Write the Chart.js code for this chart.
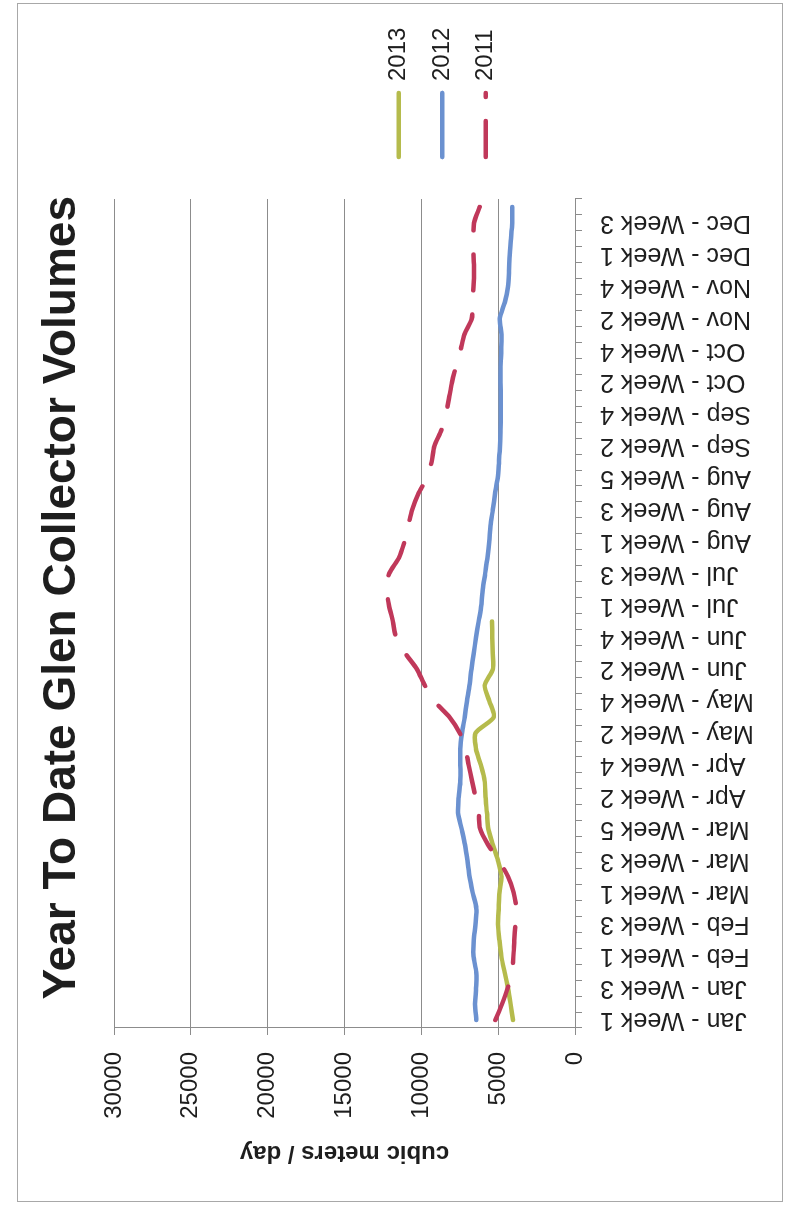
<!DOCTYPE html>
<html>
<head>
<meta charset="utf-8">
<script src="https://cdn.jsdelivr.net/npm/chart.js@4/dist/chart.umd.min.js"></script>
<style>
  html, body { margin: 0; padding: 0; background: #fff; }
  body { width: 785px; height: 1209px; overflow: hidden; position: relative; }
  #wrap {
    position: absolute; left: 0; top: 0; width: 1209px; height: 785px;
    transform-origin: 0 0;
    transform: translate(0px, 1209px) rotate(-90deg);
    background: #fff;
  }
  #frame {
    position: absolute; left: 7px; top: 17px; width: 1199px; height: 766px;
    box-sizing: border-box; border: 1px solid #a8a8a8;
  }
  canvas { position: absolute; left: 0; top: 0; }
</style>
</head>
<body>
<div id="wrap">
  <div id="frame"></div>
  <canvas id="c" width="1209" height="785" style="width:1209px;height:785px"></canvas>
</div>
<script>
// ---- data ----
const categories = [
  'Jan - Week 1','Jan - Week 2','Jan - Week 3','Jan - Week 4',
  'Feb - Week 1','Feb - Week 2','Feb - Week 3','Feb - Week 4',
  'Mar - Week 1','Mar - Week 2','Mar - Week 3','Mar - Week 4','Mar - Week 5',
  'Apr - Week 1','Apr - Week 2','Apr - Week 3','Apr - Week 4',
  'May - Week 1','May - Week 2','May - Week 3','May - Week 4',
  'Jun - Week 1','Jun - Week 2','Jun - Week 3','Jun - Week 4','Jun - Week 5',
  'Jul - Week 1','Jul - Week 2','Jul - Week 3','Jul - Week 4',
  'Aug - Week 1','Aug - Week 2','Aug - Week 3','Aug - Week 4','Aug - Week 5',
  'Sep - Week 1','Sep - Week 2','Sep - Week 3','Sep - Week 4',
  'Oct - Week 1','Oct - Week 2','Oct - Week 3','Oct - Week 4',
  'Nov - Week 1','Nov - Week 2','Nov - Week 3','Nov - Week 4','Nov - Week 5',
  'Dec - Week 1','Dec - Week 2','Dec - Week 3','Dec - Week 4'
];
const vol2013 = [4040,4190,4360,4580,4790,4920,5010,4970,4920,4790,5010,5340,5640,
  5730,5830,5880,6130,6440,6480,5290,5570,5880,5340,5360,5380,5400];
const vol2012 = [6420,6500,6440,6420,6610,6590,6480,6420,6660,6870,7000,7160,7380,
  7610,7570,7460,7460,7460,7350,7180,7030,6870,6740,6590,6440,6270,
  6100,6000,5850,5700,5580,5500,5350,5200,5030,4950,4880,4850,4830,4830,
  4850,4840,4800,4780,4900,4570,4360,4290,4250,4160,4080,4080];
const vol2011 = [5180,4750,4380,4100,4010,3950,3880,3820,3990,4360,4950,5660,6180,
  6270,6480,6700,6920,7130,7500,8170,9150,9780,10280,11040,11640,11850,
  12100,12250,12100,11450,11100,10850,10600,10200,9650,9330,9150,8700,8400,8200,
  8000,7750,7450,7200,6720,6650,6610,6570,6610,6610,6570,6200];
const seriesNames = ['2013', '2012', '2011'];
const yMin = 0, yMax = 30000, yStep = 5000;

const FONT = "'Liberation Sans', Arial, sans-serif";
const TXT = '#1e1e1e';
const GRID = '#8c8c8c';

new Chart(document.getElementById('c'), {
  type: 'line',
  data: {
    labels: categories,
    datasets: [
      { label: seriesNames[0], data: vol2013, borderColor: '#b5bb4c', order: 2 },
      { label: seriesNames[1], data: vol2012, borderColor: '#6b91d0', order: 1 },
      { label: seriesNames[2], data: vol2011, borderColor: '#c0385a', order: 0,
        borderDash: [36, 24], borderDashOffset: 0 }
    ].map(d => Object.assign({
      borderWidth: 4.5, pointRadius: 0, pointHoverRadius: 0, fill: false,
      tension: 0.25, borderCapStyle: 'round', borderJoinStyle: 'round'
    }, d))
  },
  options: {
    responsive: false,
    animation: false,
    events: [],
    layout: { padding: { left: 31, right: 17.6, top: 35, bottom: 2 } },
    plugins: {
      tooltip: { enabled: false },
      title: {
        display: true,
        text: 'Year To Date Glen Collector Volumes',
        color: TXT,
        font: { family: FONT, size: 46, weight: 'bold' },
        padding: { top: 0, bottom: 23.8 }
      },
      legend: {
        display: true,
        position: 'right',
        align: 'center',
        title: { display: true, text: '', font: { size: 12 }, padding: { top: 26, bottom: 26 } },
        labels: {
          usePointStyle: true,
          pointStyleWidth: 64,
          padding: 19.5,
          color: TXT,
          font: { family: FONT, size: 24 },
          generateLabels(chart) {
            return chart.data.datasets.map((ds, i) => ({
              text: ds.label,
              fillStyle: 'rgba(0,0,0,0)',
              strokeStyle: ds.borderColor,
              lineWidth: ds.borderWidth,
              lineDash: ds.borderDash || [],
              lineDashOffset: ds.borderDashOffset || 0,
              lineCap: 'round',
              pointStyle: 'line',
              hidden: false,
              fontColor: TXT,
              datasetIndex: i
            }));
          }
        }
      }
    },
    scales: {
      x: {
        type: 'category',
        offset: true,
        grid: { display: true, drawOnChartArea: false, drawTicks: true, tickLength: 7,
                color: GRID, lineWidth: 1, offset: true },
        border: { display: true, color: GRID, width: 1 },
        ticks: {
          autoSkip: false, minRotation: 90, maxRotation: 90, padding: 18,
          color: TXT, font: { family: FONT, size: 25 },
          callback: (v, i) => (i % 2 === 0 ? categories[i] : '')
        },
        afterFit(s) { s.height = 208; }
      },
      y: {
        type: 'linear',
        position: 'left',
        min: yMin, max: yMax,
        grid: { color: GRID, lineWidth: 1, tickLength: 7, drawTicks: true },
        border: { display: true, color: GRID, width: 1 },
        ticks: { stepSize: yStep, padding: 17, color: TXT,
                 font: { family: FONT, size: 24 }, callback: v => String(v) },
        title: { display: true, text: 'cubic meters / day', color: TXT,
                 font: { family: FONT, size: 24, weight: 'bold' },
                 padding: { top: 10.6, bottom: 0 } },
        afterFit(s) { s.width = 150; }
      },
      gap: {
        type: 'linear',
        position: 'right',
        display: true,
        grid: { display: false, drawTicks: false },
        border: { display: false },
        ticks: { display: false },
        afterFit(s) { s.width = 22.5; }
      }
    }
  }
});
</script>
</body>
</html>
